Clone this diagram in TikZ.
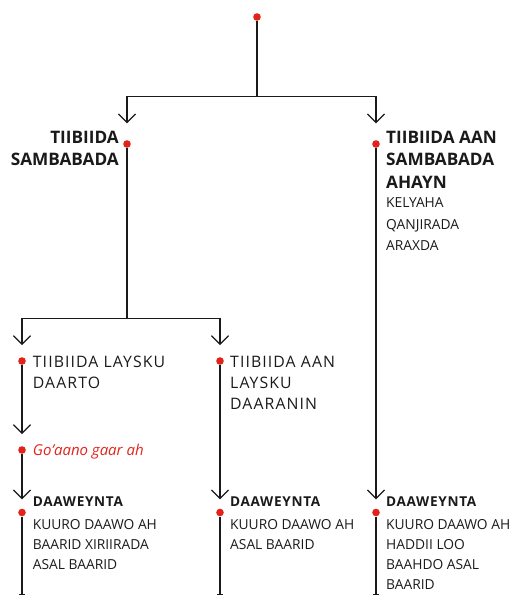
\documentclass[tikz,border=0pt]{standalone}
\usepackage{fontspec}
\setmainfont{Open Sans}
\usetikzlibrary{arrows.meta}
\definecolor{dotred}{HTML}{E2231A}
\definecolor{ink}{HTML}{1A1A1A}
\begin{document}
\begin{tikzpicture}[x=1pt,y=-1pt,
  dot/.style={circle,fill=dotred,inner sep=0pt,minimum size=7.6pt},
  conn/.style={draw=ink,line width=1.2pt},
  arr/.style={conn,-{Straight Barb[length=8.5pt,width=17pt]}},
  endbar/.style={conn,-{Bar[width=6pt]}},
  head/.style={anchor=base west,inner sep=0pt,text=ink,font=\fontsize{17.2}{22.4}\selectfont\bfseries,align=left},
  headr/.style={head,anchor=base east,align=right},
  big/.style={anchor=base west,inner sep=0pt,text=ink,font=\fontsize{15.8}{21}\selectfont\addfontfeature{LetterSpace=7},align=left},
  small/.style={anchor=base west,inner sep=0pt,text=ink,font=\fontsize{13.8}{20}\selectfont,align=left},
  smallb/.style={anchor=base west,inner sep=0pt,text=ink,font=\fontsize{13.6}{20}\selectfont\bfseries\addfontfeature{LetterSpace=5}},
  note/.style={anchor=base west,inner sep=0pt,text=dotred,font=\fontsize{15}{20}\selectfont\itshape}
]
\useasboundingbox (0,0) rectangle (513,597);
% dots
\node[dot] (top) at (257,17) {};
\node[dot] (ds) at (127,144) {};
\node[dot] (dn) at (376,144) {};
\node[dot] (dl) at (22,361) {};
\node[dot] (dm) at (220,361) {};
\node[dot] (dg) at (22,450) {};
\node[dot] (dt1) at (22,512.5) {};
\node[dot] (dt2) at (220,512.5) {};
\node[dot] (dt3) at (376,512.5) {};
% junctions and ends
\coordinate (j1) at (257,96.3);
\coordinate (j2) at (127,318.3);
\coordinate (as) at (127,123.3);
\coordinate (an) at (376,123.3);
\coordinate (al) at (22,345);
\coordinate (am) at (220,345);
\coordinate (ag) at (22,434);
\coordinate (at1) at (22,499.3);
\coordinate (at2) at (220,499.3);
\coordinate (at3) at (376,499.3);
\coordinate (e1) at (22,595);
\coordinate (e2) at (220,595);
\coordinate (e3) at (376,595);
% connectors
\draw[conn] (top.south) -- (j1);
\draw[arr] (j1) -| (as);
\draw[arr] (j1) -| (an);
\draw[conn] (ds.south) -- (j2);
\draw[arr] (j2) -| (al);
\draw[arr] (j2) -| (am);
\draw[arr] (dl.south) -- (ag);
\draw[arr] (dg.south) -- (at1);
\draw[arr] (dm.south) -- (at2);
\draw[arr] (dn.south) -- (at3);
\draw[endbar] (dt1.south) -- (e1);
\draw[endbar] (dt2.south) -- (e2);
\draw[endbar] (dt3.south) -- (e3);
% texts (anchor at the baseline of the last line)
\node[headr] (ts) at (119,165.7) {TIIBIIDA\\SAMBABADA};
\node[head] (tn) at (386,188.1) {TIIBIIDA AAN\\SAMBABADA\\AHAYN};
\node[small,font=\fontsize{13.8}{21.3}\selectfont] (tnx) at (386,250.3) {KELYAHA\\QANJIRADA\\ARAXDA};
\node[big] (tl) at (32.7,388.3) {TIIBIIDA LAYSKU\\DAARTO};
\node[big] (tm) at (230,409.3) {TIIBIIDA AAN\\LAYSKU\\DAARANIN};
\node[note] (tg) at (32.7,455.3) {Go'aano gaar ah};
\node[smallb] (h1) at (32.7,506.7) {DAAWEYNTA};
\node[smallb] (h2) at (230,506.7) {DAAWEYNTA};
\node[smallb] (h3) at (386,506.7) {DAAWEYNTA};
\node[small] (b1) at (32.7,569.3) {KUURO DAAWO AH\\BAARID XIRIIRADA\\ASAL BAARID};
\node[small] (b2) at (230,549.3) {KUURO DAAWO AH\\ASAL BAARID};
\node[small] (b3) at (386,589.3) {KUURO DAAWO AH\\HADDII LOO\\BAAHDO ASAL\\BAARID};
\end{tikzpicture}
\end{document}
